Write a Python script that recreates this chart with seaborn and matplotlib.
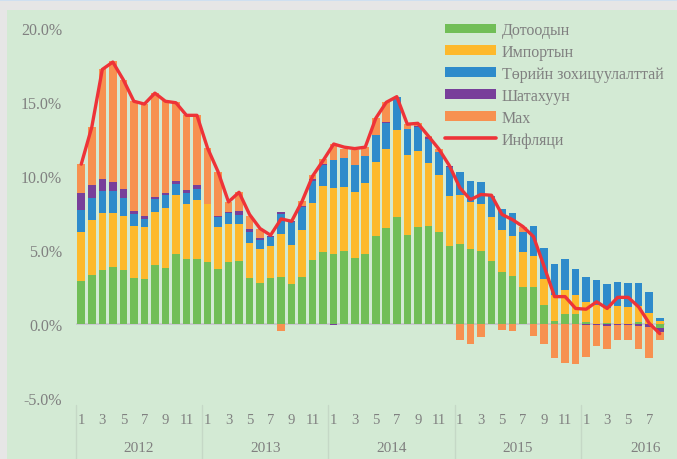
import numpy as np
import pandas as pd
import seaborn as sns
import matplotlib
matplotlib.use("Agg")
import matplotlib.pyplot as plt
from matplotlib.patches import Patch, Rectangle
from matplotlib.lines import Line2D
import matplotlib.transforms as mtransforms

# ---------------- data (contributions, percentage points) ----------------
years = [2012, 2013, 2014, 2015, 2016]
months_per_year = [12, 12, 12, 12, 8]

domestic = [2.93, 3.31, 3.65, 3.87, 3.65, 3.11, 3.04, 3.99, 3.81, 4.73, 4.39, 4.39,
            4.21, 3.72, 4.21, 4.26, 3.11, 2.79, 3.11, 3.20, 2.70, 3.20, 4.35, 4.89,
            4.73, 4.93, 4.46, 4.73, 5.97, 6.51, 7.25, 6.01, 6.58, 6.62, 6.24, 5.27,
            5.41, 5.07, 4.95, 4.28, 3.49, 3.27, 2.48, 2.48, 1.28, 0.23, 0.68, 0.68,
            0.16, 0.00, 0.05, 0.00, 0.00, 0.16, 0.00, -0.30]
imported = [3.26, 3.74, 3.83, 3.63, 3.67, 3.51, 3.49, 3.60, 4.03, 4.01, 3.74, 3.99,
            3.90, 2.83, 2.57, 2.50, 2.36, 2.28, 2.14, 2.88, 2.64, 3.15, 3.80, 4.41,
            4.44, 4.35, 4.44, 4.80, 5.00, 5.29, 5.86, 5.41, 5.13, 4.28, 3.85, 3.40,
            3.31, 3.15, 3.16, 2.93, 2.84, 2.65, 2.36, 2.14, 1.76, 1.75, 1.62, 1.30,
            1.30, 1.28, 1.01, 1.19, 1.17, 1.03, 0.74, 0.23]
regulated = [1.51, 1.46, 1.48, 1.49, 1.22, 0.83, 0.56, 0.86, 0.85, 0.74, 0.74, 0.72,
             0.00, 0.70, 0.70, 0.63, 0.72, 0.63, 0.63, 1.35, 1.53, 1.53, 1.53, 1.47,
             1.91, 1.91, 1.87, 1.84, 1.82, 1.76, 2.21, 1.76, 1.62, 1.60, 1.51, 1.96,
             1.53, 1.46, 1.46, 1.46, 1.44, 1.56, 1.40, 2.02, 2.10, 2.07, 2.09, 1.74,
             1.72, 1.69, 1.62, 1.65, 1.62, 1.60, 1.44, 0.18]
fuel = [1.13, 0.88, 0.84, 0.58, 0.60, 0.21, 0.18, 0.15, 0.16, 0.20, 0.18, 0.29,
        0.00, 0.07, 0.09, 0.27, 0.21, 0.11, 0.09, 0.12, 0.07, 0.07, 0.09, 0.05,
        -0.08, 0.00, 0.00, 0.00, 0.00, 0.07, 0.00, 0.00, 0.05, 0.11, 0.00, 0.07,
        0.00, 0.00, 0.00, 0.00, 0.00, 0.00, 0.00, 0.00, 0.00, 0.00, 0.00, 0.00,
        -0.10, -0.08, -0.15, -0.10, -0.10, -0.15, -0.20, -0.22]
meat = [1.98, 3.94, 7.43, 8.18, 7.35, 7.39, 7.59, 6.99, 6.20, 5.30, 5.09, 4.75,
        3.79, 2.98, 0.65, 1.24, 0.92, 0.61, 0.00, -0.45, 0.00, 0.38, 0.30, 0.33,
        1.08, 0.63, 0.99, 0.57, 1.13, 1.35, 0.04, 0.33, 0.18, 0.12, 0.22, 0.00,
        -1.06, -1.35, -0.90, 0.00, -0.40, -0.45, 0.34, -0.83, -1.35, -2.30, -2.64, -2.70,
        -2.15, -1.38, -1.54, -0.98, -0.98, -1.54, -2.07, -0.55]
inflation = [10.8, 13.3, 17.2, 17.7, 16.5, 15.05, 14.86, 15.6, 15.05, 14.95, 14.1, 14.1,
             11.9, 10.3, 8.25, 8.9, 7.4, 6.45, 6.0, 7.1, 6.94, 8.3, 10.0, 11.05,
             12.16, 11.95, 11.85, 11.95, 13.9, 14.98, 15.36, 13.5, 13.56, 12.7, 11.82, 10.7,
             9.2, 8.4, 8.75, 8.7, 7.4, 7.05, 6.58, 5.9, 3.9, 1.85, 1.85, 1.05,
             1.0, 1.5, 1.05, 1.8, 1.8, 1.15, 0.05, -0.65]

series_names = ["Дотоодын", "Импортын", "Төрийн зохицуулалттай", "Шатахуун", "Мах"]
line_name = "Инфляци"

# ---------------- styling ----------------
bg = "#D3EAD4"
colors = ["#71BE57", "#FDB92C", "#2E8BCB", "#783F9A", "#F79150"]
line_color = "#EE3338"
text_color = "#808080"

sns.set_theme(style="white")
plt.rcParams["font.family"] = ["Liberation Serif", "DejaVu Serif"]

fig = plt.figure(figsize=(6.77, 4.60), dpi=100)
fig.patch.set_facecolor(bg)
# gray frame strips (top/left) as in screenshot
fig.patches.append(Rectangle((0, 1 - 11 / 460), 1, 11 / 460, transform=fig.transFigure,
                             facecolor="#E6E6E6", edgecolor="none", zorder=0))
fig.patches.append(Rectangle((0, 0), 7 / 677, 1, transform=fig.transFigure,
                             facecolor="#E6E6E6", edgecolor="none", zorder=0))
fig.patches.append(Rectangle((0, 1 - 1.5 / 460), 1, 1.5 / 460, transform=fig.transFigure,
                             facecolor="#CFE0F0", edgecolor="none", zorder=0))

ax = fig.add_axes([76 / 677, 61 / 460, 589 / 677, 370 / 460])
ax.set_facecolor(bg)

n = len(inflation)
x = np.arange(n)
month_nums = [m for cnt in months_per_year for m in range(1, cnt + 1)]

df = pd.DataFrame({"x": x, "month": month_nums, line_name: inflation})
vals = [domestic, imported, regulated, fuel, meat]

pos_bottom = np.zeros(n)
neg_bottom = np.zeros(n)
for name, v, c in zip(series_names, vals, colors):
    v = np.asarray(v, dtype=float)
    bottom = np.where(v >= 0, pos_bottom, neg_bottom)
    ax.bar(x, v, bottom=bottom, width=0.72, color=c, edgecolor="none", zorder=2)
    pos_bottom = pos_bottom + np.where(v > 0, v, 0)
    neg_bottom = neg_bottom + np.where(v < 0, v, 0)

sns.lineplot(data=df, x="x", y=line_name, ax=ax, color=line_color, lw=2.4,
             zorder=4, legend=False)

# zero line
ax.axhline(0, color="#C9C9CF", lw=1.4, zorder=1)

ax.set_xlim(-0.5, n - 0.5)
ax.set_ylim(-5, 20)
ax.set_yticks([-5, 0, 5, 10, 15, 20])
ax.set_yticklabels([f"{t:.1f}%" for t in [-5, 0, 5, 10, 15, 20]])
ax.tick_params(axis="y", length=0, pad=10, labelsize=11.5, labelcolor=text_color)
ax.set_xticks([])
ax.set_xlabel("")
ax.set_ylabel("")
for s in ax.spines.values():
    s.set_visible(False)

# month labels and year labels below axis
trans = mtransforms.blended_transform_factory(ax.transData, ax.transAxes)
for xi, m in zip(x, month_nums):
    if m % 2 == 1:
        ax.text(xi, -0.058, str(m), transform=trans, ha="center", va="center",
                fontsize=10.5, color=text_color, clip_on=False)
start = 0
for yr, cnt in zip(years, months_per_year):
    if yr == 2016:
        xpos = start + cnt - 0.85
        ha = "right"
    else:
        xpos = start + cnt / 2 - 0.5
        ha = "center"
    ax.text(xpos, -0.135, str(yr), transform=trans, ha=ha, va="center",
            fontsize=11, color=text_color, clip_on=False)
    ax.plot([start - 0.5, start - 0.5], [-0.02, -0.17], transform=trans,
            color="#C5D8C6", lw=1.0, clip_on=False)
    start += cnt

# legend
handles = [Patch(facecolor=c, edgecolor="none") for c in colors]
handles.append(Line2D([0], [0], color=line_color, lw=2.6))
leg = fig.legend(handles, series_names + [line_name], loc="upper left",
                 bbox_to_anchor=(445 / 677, 1 - 23 / 460), frameon=False,
                 fontsize=11.5, handlelength=3.2, handleheight=0.55,
                 handletextpad=0.35, labelspacing=0.37, borderpad=0, borderaxespad=0)
for t in leg.get_texts():
    t.set_color(text_color)

fig.savefig("out.png", dpi=100, facecolor=bg)
